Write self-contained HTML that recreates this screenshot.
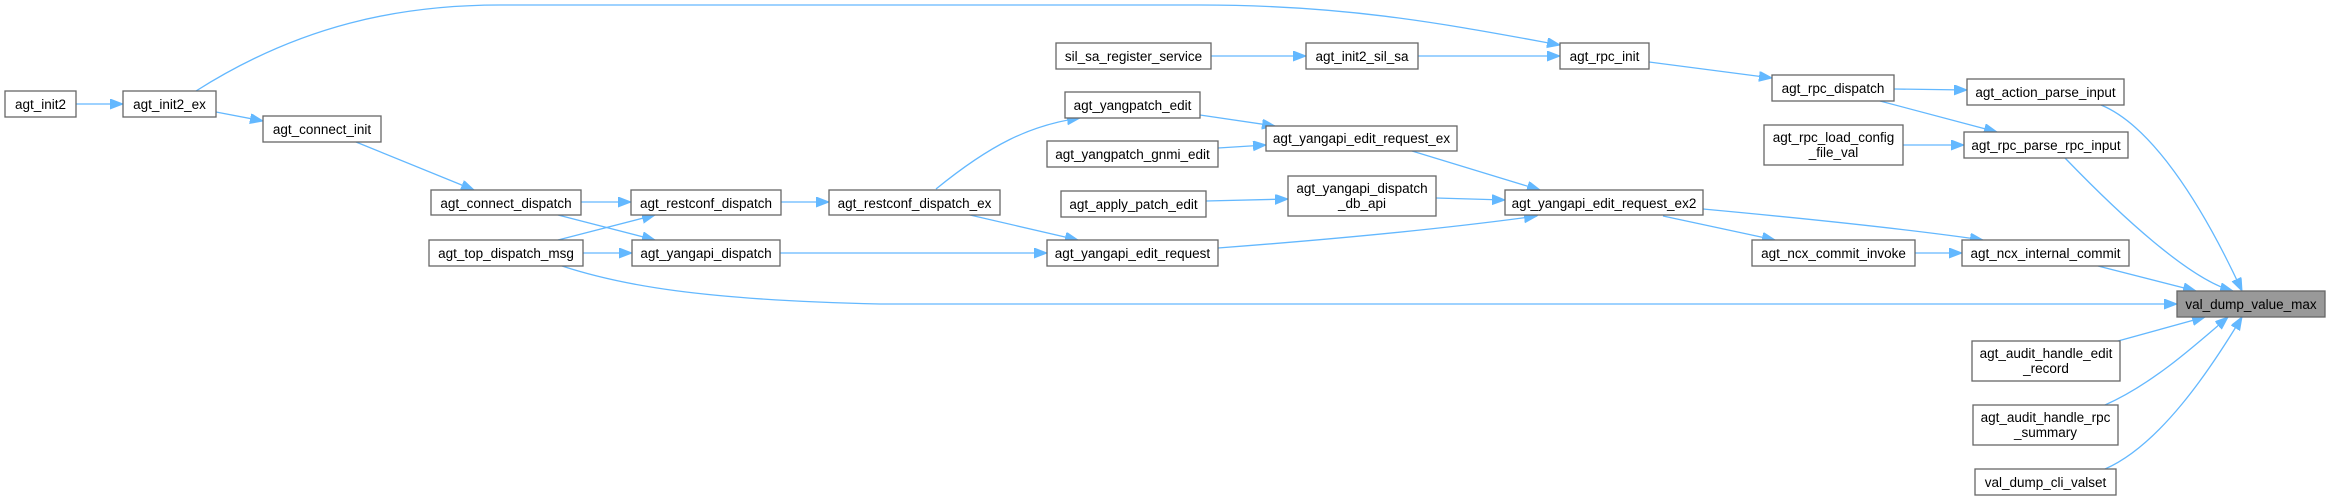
<!DOCTYPE html>
<html><head><meta charset="utf-8"><style>
html,body{margin:0;padding:0;background:#fff;}
svg{display:block;}
text{font-family:"Liberation Sans",Arial,sans-serif;font-size:13.5px;fill:#000;text-anchor:middle;}
rect{fill:#fff;stroke:#666;stroke-width:1.3;}
path{fill:none;stroke:#63b8ff;stroke-width:1.3;}
</style></head><body>
<svg width="2331" height="501" viewBox="0 0 2331 501" xmlns="http://www.w3.org/2000/svg">
<defs><marker id="a" markerUnits="userSpaceOnUse" markerWidth="14" markerHeight="12" refX="13" refY="5" orient="auto"><path d="M0,0 L13,5 L0,10 Z" style="fill:#63b8ff;stroke:#63b8ff;stroke-width:1"/></marker></defs>
<g marker-end="url(#a)">
<path d="M76,104 L123,104"/>
<path d="M216,112 L263,121"/>
<path d="M196,91 C300,25 400,5 500,5 L1200,5 C1350,5 1450,25 1560,45"/>
<path d="M356,142 L474,190"/>
<path d="M581,202 L631,202"/>
<path d="M558,215 L655,240"/>
<path d="M558,240 L655,215"/>
<path d="M583,253 L632,253"/>
<path d="M562,266 C620,285 700,300 880,304 L2177,304"/>
<path d="M781,202 L829,202"/>
<path d="M780,253 L1047,253"/>
<path d="M936,189 C990,145 1030,125 1080,118"/>
<path d="M970,215 L1078,240"/>
<path d="M1211,56 L1306,56"/>
<path d="M1418,56 L1560,56"/>
<path d="M1200,115 L1275,126"/>
<path d="M1218,148 L1266,145"/>
<path d="M1206,201 L1288,199"/>
<path d="M1436,198 L1505,200"/>
<path d="M1412,151 L1540,190"/>
<path d="M1218,248 C1350,238 1450,228 1537,216"/>
<path d="M1649,62 L1772,78"/>
<path d="M1894,89 L1967,90"/>
<path d="M1880,101 L1997,132"/>
<path d="M1903,145 L1964,145"/>
<path d="M1703,209 C1800,218 1900,228 1983,240"/>
<path d="M1663,216 L1775,240"/>
<path d="M1915,253 L1962,253"/>
<path d="M2101,105 C2150,125 2200,200 2242,291"/>
<path d="M2065,158 C2120,215 2190,280 2233,291"/>
<path d="M2098,266 L2196,291"/>
<path d="M2118,341 L2205,317"/>
<path d="M2105,405 C2150,385 2190,350 2228,317"/>
<path d="M2105,469 C2160,445 2210,370 2242,317"/>
</g>
<g>
<rect x="5" y="91" width="71" height="26"/><text x="40.5" y="109">agt_init2</text>
<rect x="123" y="91" width="93" height="26"/><text x="169.5" y="109">agt_init2_ex</text>
<rect x="263" y="116" width="118" height="26"/><text x="322" y="134">agt_connect_init</text>
<rect x="431" y="190" width="150" height="25"/><text x="506" y="208">agt_connect_dispatch</text>
<rect x="631" y="190" width="150" height="25"/><text x="706" y="208">agt_restconf_dispatch</text>
<rect x="429" y="240" width="154" height="26"/><text x="506" y="258">agt_top_dispatch_msg</text>
<rect x="632" y="240" width="148" height="26"/><text x="706" y="258">agt_yangapi_dispatch</text>
<rect x="1056" y="43" width="155" height="26"/><text x="1133.5" y="61">sil_sa_register_service</text>
<rect x="1306" y="43" width="112" height="26"/><text x="1362" y="61">agt_init2_sil_sa</text>
<rect x="1560" y="43" width="89" height="26"/><text x="1604.5" y="61">agt_rpc_init</text>
<rect x="1065" y="92" width="135" height="26"/><text x="1132.5" y="110">agt_yangpatch_edit</text>
<rect x="1266" y="126" width="191" height="25"/><text x="1361.5" y="143">agt_yangapi_edit_request_ex</text>
<rect x="1047" y="141" width="171" height="26"/><text x="1132.5" y="159">agt_yangpatch_gnmi_edit</text>
<rect x="829" y="190" width="171" height="25"/><text x="914.5" y="208">agt_restconf_dispatch_ex</text>
<rect x="1061" y="191" width="145" height="26"/><text x="1133.5" y="209">agt_apply_patch_edit</text>
<rect x="1288" y="176" width="148" height="40"/><text x="1362" y="193">agt_yangapi_dispatch</text><text x="1362" y="208">_db_api</text>
<rect x="1505" y="190" width="198" height="25"/><text x="1604" y="208">agt_yangapi_edit_request_ex2</text>
<rect x="1047" y="240" width="171" height="26"/><text x="1132.5" y="258">agt_yangapi_edit_request</text>
<rect x="1772" y="75" width="122" height="26"/><text x="1833" y="93">agt_rpc_dispatch</text>
<rect x="1967" y="79" width="157" height="26"/><text x="2045.5" y="97">agt_action_parse_input</text>
<rect x="1764" y="125" width="139" height="40"/><text x="1833.5" y="142">agt_rpc_load_config</text><text x="1833.5" y="157">_file_val</text>
<rect x="1964" y="132" width="164" height="26"/><text x="2046" y="150">agt_rpc_parse_rpc_input</text>
<rect x="1752" y="240" width="163" height="26"/><text x="1833.5" y="258">agt_ncx_commit_invoke</text>
<rect x="1962" y="240" width="167" height="26"/><text x="2045.5" y="258">agt_ncx_internal_commit</text>
<rect x="2177" y="291" width="148" height="26" style="fill:#999"/><text x="2251" y="309">val_dump_value_max</text>
<rect x="1972" y="341" width="148" height="40"/><text x="2046" y="358">agt_audit_handle_edit</text><text x="2046" y="373">_record</text>
<rect x="1973" y="405" width="145" height="40"/><text x="2045.5" y="422">agt_audit_handle_rpc</text><text x="2045.5" y="437">_summary</text>
<rect x="1975" y="469" width="141" height="26"/><text x="2045.5" y="487">val_dump_cli_valset</text>
</g>
</svg>
</body></html>
